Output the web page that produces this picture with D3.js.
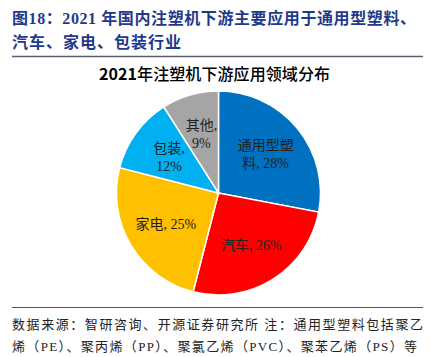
<!DOCTYPE html>
<html><head><meta charset="utf-8">
<script src="https://cdn.jsdelivr.net/npm/d3@7"></script>
<style>body{margin:0;background:#fff}</style>
</head><body>
<svg id="c" width="430" height="357"></svg>
<script>
const categories = ["通用型塑料", "汽车", "家电", "包装", "其他"];
const values = [28, 26, 25, 12, 9];
const labelLines = [["通用型塑", "料, 28%"], ["汽车, 26%"], ["家电, 25%"], ["包装,", "12%"], ["其他,", "9%"]];
const colors = ["#0070C0", "#FF0000", "#FFC000", "#00B0F0", "#A5A5A5"];

const svg = d3.select("#c");
const serif = "'Liberation Serif','Noto Sans CJK SC',serif";
const navy = "#1F3A8A";

svg.append("text").attr("x", 12).attr("y", 24).attr("font-family", serif).attr("font-weight", "bold")
  .attr("font-size", 16).attr("fill", navy).attr("textLength", 404).attr("lengthAdjust", "spacing")
  .text("图18：2021 年国内注塑机下游主要应用于通用型塑料、");
svg.append("text").attr("x", 12).attr("y", 48).attr("font-family", serif).attr("font-weight", "bold")
  .attr("font-size", 16).attr("fill", navy).attr("textLength", 169).attr("lengthAdjust", "spacing")
  .text("汽车、家电、包装行业");
svg.append("line").attr("x1", 12).attr("x2", 423).attr("y1", 56.5).attr("y2", 56.5).attr("stroke", "#5a5f70").attr("stroke-width", 1.3);

const ct = svg.append("text").attr("x", 99).attr("y", 80)
  .attr("font-family", "'Noto Sans CJK SC',sans-serif").attr("font-size", 16).attr("fill", "#000")
  .attr("textLength", 231).attr("lengthAdjust", "spacing");
ct.append("tspan").attr("font-weight", "bold").text("2021");
ct.append("tspan").attr("font-weight", "500").text("年注塑机下游应用领域分布");

const cx = 218.5, cy = 193, r = 102;
const g = svg.append("g").attr("transform", `translate(${cx},${cy})`);
const pie = d3.pie().sort(null).value(d => d)(values);
const arc = d3.arc().innerRadius(0).outerRadius(r);
const labelArc = d3.arc().innerRadius(r * 0.6).outerRadius(r * 0.6);
g.selectAll("path").data(pie).join("path").attr("d", arc).attr("fill", (d, i) => colors[i])
  .attr("stroke", "#fff").attr("stroke-width", 1.5);

g.selectAll("text.lbl").data(pie).join("text").attr("class", "lbl")
  .attr("text-anchor", "middle").attr("font-family", serif).attr("font-size", 14).attr("fill", "#222")
  .each(function (d, i) {
    const [x, y] = labelArc.centroid(d);
    const lines = labelLines[i];
    const t = d3.select(this);
    lines.forEach((s, k) => {
      t.append("tspan").attr("x", x).attr("y", y + 5 + (k - (lines.length - 1) / 2) * 18).text(s);
    });
  });

svg.append("line").attr("x1", 12).attr("x2", 423).attr("y1", 307.5).attr("y2", 307.5).attr("stroke", "#555").attr("stroke-width", 1.2);
svg.append("text").attr("x", 12).attr("y", 329).attr("font-family", serif).attr("font-size", 13).attr("fill", "#222")
  .attr("textLength", 411).attr("lengthAdjust", "spacing")
  .text("数据来源：智研咨询、开源证券研究所 注：通用型塑料包括聚乙");
svg.append("text").attr("x", 12).attr("y", 351).attr("font-family", serif).attr("font-size", 13).attr("fill", "#222")
  .attr("textLength", 405).attr("lengthAdjust", "spacing")
  .text("烯（PE）、聚丙烯（PP）、聚氯乙烯（PVC）、聚苯乙烯（PS）等");
</script>
</body></html>
